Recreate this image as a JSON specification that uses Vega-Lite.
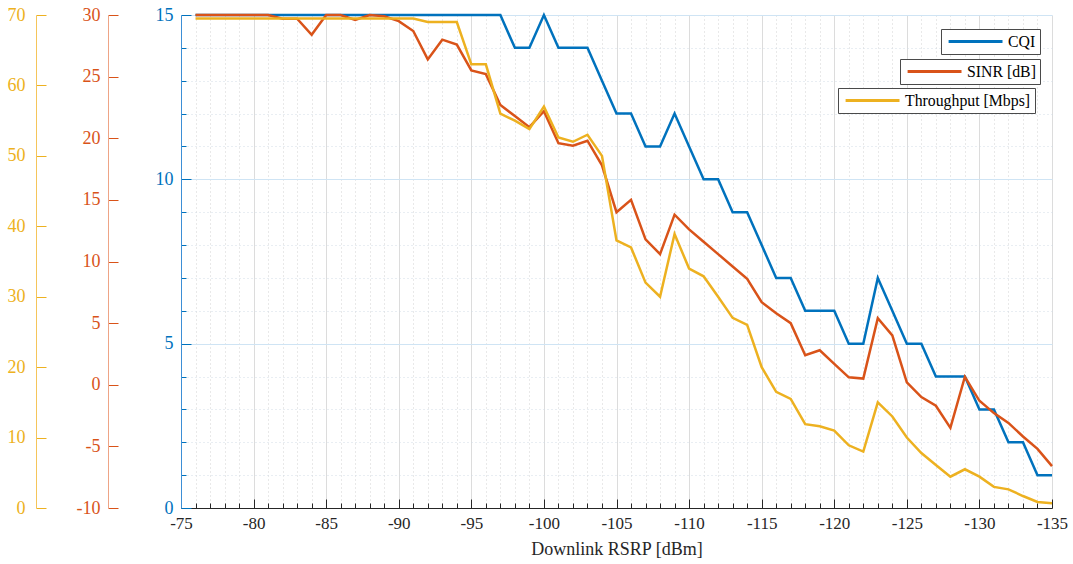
{
  "$schema": "https://vega.github.io/schema/vega-lite/v6.json",
  "width": 871,
  "height": 493,
  "autosize": {"type": "none"},
  "padding": {"left": 181, "top": 15, "right": 21, "bottom": 56},
  "background": "white",
  "config": {
    "view": {"stroke": null},
    "axis": {"labelFont": "Liberation Serif", "titleFont": "Liberation Serif", "labelFontSize": 17, "labelFlush": false, "labelOverlap": false, "labelBound": false},
    "legend": {
      "orient": "none", "symbolType": "M-0.7,0H7", "symbolStrokeWidth": 3, "symbolSize": 196,
      "labelFont": "Liberation Serif", "labelFontSize": 15.8, "labelColor": "#000000", "labelLimit": 300,
      "strokeColor": "#4a4a4a", "fillColor": "white", "padding": 4, "labelOffset": 46, "rowPadding": 0
    }
  },
  "data": {"values": [
    {"x": -76, "cqi": 15, "sinr": 30, "tp": 69.5},
    {"x": -77, "cqi": 15, "sinr": 30, "tp": 69.5},
    {"x": -78, "cqi": 15, "sinr": 30, "tp": 69.5},
    {"x": -79, "cqi": 15, "sinr": 30, "tp": 69.5},
    {"x": -80, "cqi": 15, "sinr": 30, "tp": 69.5},
    {"x": -81, "cqi": 15, "sinr": 30, "tp": 69.5},
    {"x": -82, "cqi": 15, "sinr": 29.7, "tp": 69.5},
    {"x": -83, "cqi": 15, "sinr": 29.7, "tp": 69.5},
    {"x": -84, "cqi": 15, "sinr": 28.4, "tp": 69.5},
    {"x": -85, "cqi": 15, "sinr": 30, "tp": 69.5},
    {"x": -86, "cqi": 15, "sinr": 30, "tp": 69.5},
    {"x": -87, "cqi": 15, "sinr": 29.6, "tp": 69.5},
    {"x": -88, "cqi": 15, "sinr": 30, "tp": 69.5},
    {"x": -89, "cqi": 15, "sinr": 29.9, "tp": 69.5},
    {"x": -90, "cqi": 15, "sinr": 29.5, "tp": 69.5},
    {"x": -91, "cqi": 15, "sinr": 28.7, "tp": 69.5},
    {"x": -92, "cqi": 15, "sinr": 26.4, "tp": 69.0},
    {"x": -93, "cqi": 15, "sinr": 28.0, "tp": 69.0},
    {"x": -94, "cqi": 15, "sinr": 27.6, "tp": 69.0},
    {"x": -95, "cqi": 15, "sinr": 25.5, "tp": 63.0},
    {"x": -96, "cqi": 15, "sinr": 25.2, "tp": 63.0},
    {"x": -97, "cqi": 15, "sinr": 22.7, "tp": 56.0},
    {"x": -98, "cqi": 14, "sinr": 21.8, "tp": 55.0},
    {"x": -99, "cqi": 14, "sinr": 20.9, "tp": 53.8},
    {"x": -100, "cqi": 15, "sinr": 22.2, "tp": 57.0},
    {"x": -101, "cqi": 14, "sinr": 19.6, "tp": 52.6},
    {"x": -102, "cqi": 14, "sinr": 19.4, "tp": 52.0},
    {"x": -103, "cqi": 14, "sinr": 19.8, "tp": 53.0},
    {"x": -104, "cqi": 13, "sinr": 17.8, "tp": 50.0},
    {"x": -105, "cqi": 12, "sinr": 14.0, "tp": 38.0},
    {"x": -106, "cqi": 12, "sinr": 15.0, "tp": 37.0},
    {"x": -107, "cqi": 11, "sinr": 11.8, "tp": 32.0},
    {"x": -108, "cqi": 11, "sinr": 10.6, "tp": 30.0},
    {"x": -109, "cqi": 12, "sinr": 13.8, "tp": 38.9},
    {"x": -110, "cqi": 11, "sinr": 12.6, "tp": 34.0},
    {"x": -111, "cqi": 10, "sinr": 11.6, "tp": 32.9},
    {"x": -112, "cqi": 10, "sinr": 10.6, "tp": 30.0},
    {"x": -113, "cqi": 9, "sinr": 9.6, "tp": 27.0},
    {"x": -114, "cqi": 9, "sinr": 8.6, "tp": 26.0},
    {"x": -115, "cqi": 8, "sinr": 6.7, "tp": 20.0},
    {"x": -116, "cqi": 7, "sinr": 5.8, "tp": 16.5},
    {"x": -117, "cqi": 7, "sinr": 5.0, "tp": 15.5},
    {"x": -118, "cqi": 6, "sinr": 2.4, "tp": 11.9},
    {"x": -119, "cqi": 6, "sinr": 2.8, "tp": 11.6},
    {"x": -120, "cqi": 6, "sinr": 1.7, "tp": 11.0},
    {"x": -121, "cqi": 5, "sinr": 0.6, "tp": 8.9},
    {"x": -122, "cqi": 5, "sinr": 0.5, "tp": 8.0},
    {"x": -123, "cqi": 7, "sinr": 5.4, "tp": 15.0},
    {"x": -124, "cqi": 6, "sinr": 4.0, "tp": 13.0},
    {"x": -125, "cqi": 5, "sinr": 0.2, "tp": 10.0},
    {"x": -126, "cqi": 5, "sinr": -1.0, "tp": 7.8},
    {"x": -127, "cqi": 4, "sinr": -1.7, "tp": 6.1},
    {"x": -128, "cqi": 4, "sinr": -3.5, "tp": 4.45},
    {"x": -129, "cqi": 4, "sinr": 0.65, "tp": 5.5},
    {"x": -130, "cqi": 3, "sinr": -1.3, "tp": 4.45},
    {"x": -131, "cqi": 3, "sinr": -2.3, "tp": 3.0},
    {"x": -132, "cqi": 2, "sinr": -3.1, "tp": 2.65},
    {"x": -133, "cqi": 2, "sinr": -4.2, "tp": 1.7},
    {"x": -134, "cqi": 1, "sinr": -5.2, "tp": 0.85},
    {"x": -135, "cqi": 1, "sinr": -6.6, "tp": 0.67}
  ]},
  "encoding": {
    "x": {
      "field": "x", "type": "quantitative",
      "scale": {"domain": [-135, -75], "reverse": true, "nice": false, "zero": false},
      "axis": {
        "values": [-75,-76,-77,-78,-79,-80,-81,-82,-83,-84,-85,-86,-87,-88,-89,-90,-91,-92,-93,-94,-95,-96,-97,-98,-99,-100,-101,-102,-103,-104,-105,-106,-107,-108,-109,-110,-111,-112,-113,-114,-115,-116,-117,-118,-119,-120,-121,-122,-123,-124,-125,-126,-127,-128,-129,-130,-131,-132,-133,-134,-135],
        "title": "Downlink RSRP [dBm]", "titleFontSize": 18, "titleFontWeight": "normal", "titleColor": "#262626", "titlePadding": 5,
        "labelExpr": "datum.value % 5 === 0 ? '' + datum.value : ''",
        "labelFont": "Liberation Serif", "labelFontSize": 17, "labelColor": "#262626", "labelPadding": 16,
        "domainColor": "#262626", "tickColor": "#262626",
        "tickSize": {"condition": {"test": "datum.value % 5 === 0", "value": -9}, "value": -5},
        "grid": true,
        "gridColor": {"condition": {"test": "datum.value % 5 === 0", "value": "#dcdcdc"}, "value": "#d2d2d2"},
        "gridDash": {"condition": {"test": "datum.value % 5 === 0", "value": []}, "value": [1, 3]}
      }
    }
  },
  "layer": [
    {
      "mark": {"type": "line", "strokeWidth": 2.5},
      "encoding": {
        "y": {
          "field": "cqi", "type": "quantitative",
          "scale": {"domain": [0, 15], "nice": false},
          "axis": {
            "title": null,
            "values": [0,1,2,3,4,5,6,7,8,9,10,11,12,13,14,15],
            "labelExpr": "datum.value % 5 === 0 ? '' + datum.value : ''",
            "labelFont": "Liberation Serif", "labelFontSize": 18, "labelColor": "#0072BD", "labelPadding": 18,
            "domainColor": "#3d8fd6", "tickColor": "#0072BD",
            "tickSize": {"condition": {"test": "datum.value % 5 === 0", "value": -10}, "value": -5},
            "grid": true,
            "gridColor": {"condition": {"test": "datum.value % 5 === 0", "value": "#cfe4f4"}, "value": "#d3dde6"},
            "gridDash": {"condition": {"test": "datum.value % 5 === 0", "value": []}, "value": [1, 3]}
          }
        },
        "color": {"datum": "CQI", "type": "nominal", "scale": {"domain": ["CQI"], "range": ["#0072BD"]}, "legend": {"title": null, "orient": "none", "legendX": 760, "legendY": 14}}
      }
    },
    {
      "mark": {"type": "line", "strokeWidth": 2.5},
      "encoding": {
        "y": {
          "field": "sinr", "type": "quantitative",
          "scale": {"domain": [-10, 30], "nice": false, "zero": false},
          "axis": {
            "title": null, "orient": "left", "offset": 73, "grid": false,
            "values": [-10,-5,0,5,10,15,20,25,30],
            "labelExpr": "'' + datum.value",
            "labelFont": "Liberation Serif", "labelFontSize": 18, "labelColor": "#D95319", "labelPadding": 18,
            "domainColor": "#eea486", "tickColor": "#D95319", "tickSize": -10
          }
        },
        "color": {"datum": "SINR [dB]", "type": "nominal", "scale": {"domain": ["SINR [dB]"], "range": ["#D95319"]}, "legend": {"title": null, "orient": "none", "legendX": 719, "legendY": 44}}
      }
    },
    {
      "mark": {"type": "line", "strokeWidth": 2.5},
      "encoding": {
        "y": {
          "field": "tp", "type": "quantitative",
          "scale": {"domain": [0, 70], "nice": false},
          "axis": {
            "title": null, "orient": "left", "offset": 145, "grid": false,
            "values": [0,10,20,30,40,50,60,70],
            "labelExpr": "'' + datum.value",
            "labelFont": "Liberation Serif", "labelFontSize": 18, "labelColor": "#EDB120", "labelPadding": 21,
            "domainColor": "#f5c55a", "tickColor": "#EDB120", "tickSize": -10
          }
        },
        "color": {"datum": "Throughput [Mbps]", "type": "nominal", "scale": {"domain": ["Throughput [Mbps]"], "range": ["#EDB120"]}, "legend": {"title": null, "orient": "none", "legendX": 657, "legendY": 73}}
      }
    }
  ],
  "resolve": {"scale": {"y": "independent", "color": "independent"}}
}
